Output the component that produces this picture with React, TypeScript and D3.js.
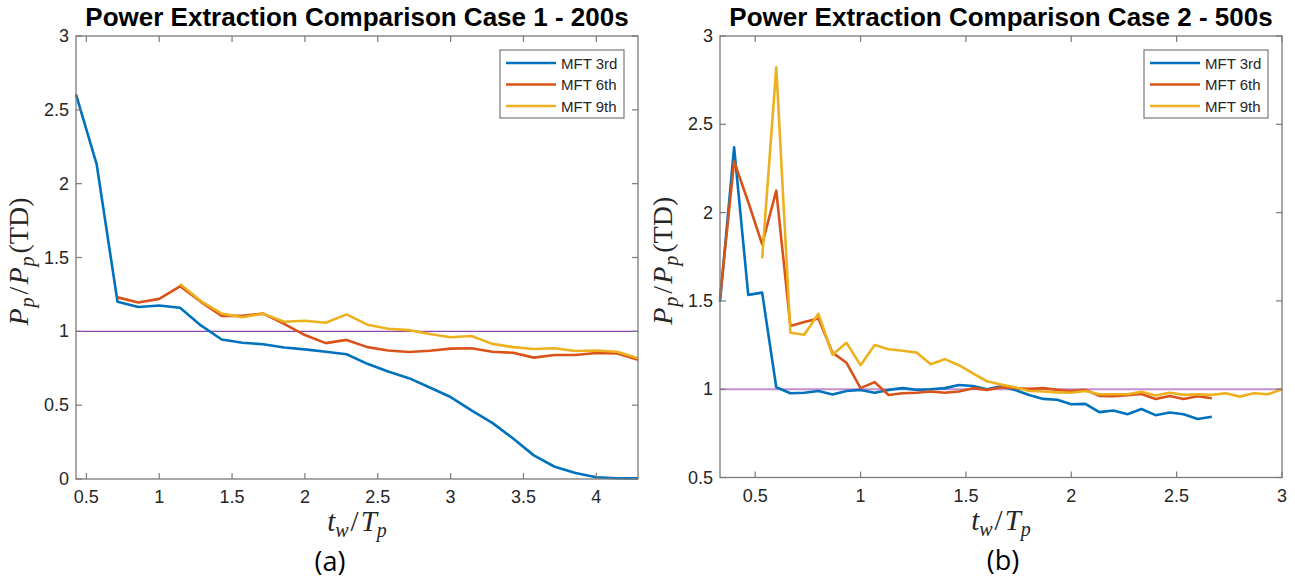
import React from 'react';
import * as d3 from 'd3';

// ---------- data ----------
const xCase1 = [0.429, 0.571, 0.714, 0.857, 1.0, 1.143, 1.286, 1.429, 1.571, 1.714, 1.857, 2.0, 2.143, 2.286,
  2.429, 2.571, 2.714, 2.857, 3.0, 3.143, 3.286, 3.429, 3.571, 3.714, 3.857, 4.0, 4.143, 4.286];
const mft3Case1 = [2.605, 2.13, 1.2, 1.165, 1.175, 1.16, 1.04, 0.945, 0.923, 0.912, 0.89, 0.878, 0.862, 0.845,
  0.78, 0.728, 0.683, 0.62, 0.555, 0.465, 0.38, 0.274, 0.16, 0.083, 0.04, 0.012, 0.005, 0.004];
const mft6Case1 = [null, null, 1.23, 1.195, 1.22, 1.305, 1.2, 1.105, 1.105, 1.12, 1.05, 0.975, 0.92, 0.942,
  0.893, 0.87, 0.86, 0.868, 0.883, 0.885, 0.862, 0.855, 0.822, 0.84, 0.84, 0.853, 0.85, 0.808];
const mft9Case1 = [null, null, null, null, null, 1.32, 1.205, 1.12, 1.095, 1.12, 1.065, 1.072, 1.058, 1.115,
  1.045, 1.018, 1.008, 0.982, 0.96, 0.968, 0.915, 0.893, 0.88, 0.885, 0.867, 0.87, 0.862, 0.817];

const xCase2 = [0.333, 0.4, 0.467, 0.533, 0.6, 0.667, 0.733, 0.8, 0.867, 0.933, 1.0, 1.067, 1.133, 1.2, 1.267,
  1.333, 1.4, 1.467, 1.533, 1.6, 1.667, 1.733, 1.8, 1.867, 1.933, 2.0, 2.067, 2.133, 2.2, 2.267, 2.333, 2.4,
  2.467, 2.533, 2.6, 2.667, 2.733, 2.8, 2.867, 2.933, 3.0];
const mft3Case2 = [1.495, 2.37, 1.534, 1.547, 1.011, 0.977, 0.98, 0.99, 0.97, 0.99, 0.996, 0.98, 0.996, 1.006,
  0.996, 1.0, 1.006, 1.024, 1.018, 1.0, 1.017, 0.996, 0.967, 0.945, 0.94, 0.915, 0.917, 0.87, 0.879, 0.858,
  0.888, 0.853, 0.868, 0.858, 0.831, 0.844, null, null, null, null, null];
const mft6Case2 = [1.515, 2.29, 2.06, 1.82, 2.125, 1.358, 1.38, 1.4, 1.207, 1.15, 1.006, 1.04, 0.967, 0.977,
  0.98, 0.987, 0.98, 0.987, 1.006, 0.996, 1.011, 1.006, 1.002, 1.006, 0.996, 0.99, 0.996, 0.962, 0.96, 0.966,
  0.973, 0.945, 0.962, 0.945, 0.96, 0.949, null, null, null, null, null];
const mft9Case2 = [null, null, null, 1.741, 2.823, 1.32, 1.308, 1.427, 1.195, 1.263, 1.136, 1.25, 1.226, 1.218,
  1.207, 1.141, 1.17, 1.136, 1.09, 1.045, 1.026, 1.011, 0.99, 0.987, 0.982, 0.98, 0.99, 0.971, 0.971, 0.971,
  0.985, 0.964, 0.98, 0.968, 0.971, 0.968, 0.977, 0.958, 0.977, 0.971, 1.0];

const seriesNames = ['MFT 3rd', 'MFT 6th', 'MFT 9th'];
const seriesColors = ['#0072BD', '#D95319', '#EDB120'];

const xTicks1 = [0.5, 1, 1.5, 2, 2.5, 3, 3.5, 4];
const yTicks1 = [0, 0.5, 1, 1.5, 2, 2.5, 3];
const xTicks2 = [0.5, 1, 1.5, 2, 2.5, 3];
const yTicks2 = [0.5, 1, 1.5, 2, 2.5, 3];

const titles = ['Power Extraction Comparison Case 1 - 200s', 'Power Extraction Comparison Case 2 - 500s'];
const panelLabels = ['(a)', '(b)'];

const AXIS = '#7a7a7a';
const TXT = '#262626';
const SERIF = 'Liberation Serif, Times New Roman, serif';
const SANS = 'Liberation Sans, Arial, sans-serif';

type PanelProps = {
  left: number; right: number; top: number; bottom: number;
  xDomain: [number, number]; yDomain: [number, number];
  xs: number[]; series: (number | null)[][];
  xTicks: number[]; yTicks: number[];
  title: string; label: string; labelShift: number;
  refColor: string; refWidth: number;
};

function Panel(p: PanelProps) {
  const x = d3.scaleLinear().domain(p.xDomain).range([p.left, p.right]);
  const y = d3.scaleLinear().domain(p.yDomain).range([p.bottom, p.top]);
  const fmt = (v: number) => d3.format('~g')(v);
  const cx = (p.left + p.right) / 2;
  const tick = 6;
  const lg = { x: p.right - 138, y: 50, w: 124, h: 68 };
  return (
    <g>
      <line x1={x(p.xDomain[0])} x2={x(p.xDomain[1])} y1={y(1)} y2={y(1)} stroke={p.refColor} strokeWidth={p.refWidth} />
      {p.series.map((s, i) => {
        const pts = p.xs.map((xv, j) => [xv, s[j]] as [number, number | null]);
        const line = d3.line<[number, number | null]>()
          .defined(d => d[1] !== null)
          .x(d => x(d[0]))
          .y(d => y(d[1] as number));
        return <path key={i} d={line(pts) || ''} fill="none" stroke={seriesColors[i]} strokeWidth={2.6} strokeLinejoin="round" />;
      })}
      <rect x={p.left} y={p.top} width={p.right - p.left} height={p.bottom - p.top} fill="none" stroke={AXIS} strokeWidth={1.3} />
      {p.xTicks.map(t => (
        <g key={'x' + t}>
          <line x1={x(t)} x2={x(t)} y1={p.bottom} y2={p.bottom - tick} stroke={AXIS} strokeWidth={1.2} />
          <line x1={x(t)} x2={x(t)} y1={p.top} y2={p.top + tick} stroke={AXIS} strokeWidth={1.2} />
          <text x={x(t)} y={p.bottom + 24} textAnchor="middle" fontSize={18} fill={TXT} fontFamily={SANS}>{fmt(t)}</text>
        </g>
      ))}
      {p.yTicks.map(t => (
        <g key={'y' + t}>
          <line x1={p.left} x2={p.left + tick} y1={y(t)} y2={y(t)} stroke={AXIS} strokeWidth={1.2} />
          <line x1={p.right} x2={p.right - tick} y1={y(t)} y2={y(t)} stroke={AXIS} strokeWidth={1.2} />
          <text x={p.left - 7} y={y(t) + 6} textAnchor="end" fontSize={18} fill={TXT} fontFamily={SANS}>{fmt(t)}</text>
        </g>
      ))}
      <text x={cx} y={26} textAnchor="middle" fontSize={26} fontWeight="bold" fill="#000" fontFamily={SANS}>{p.title}</text>
      <text transform={`translate(${p.left - 48},${(p.top + p.bottom) / 2 + 4}) rotate(-90)`} textAnchor="middle" fontSize={28} fill={TXT} fontFamily={SERIF}>
        <tspan fontStyle="italic">P</tspan><tspan fontStyle="italic" fontSize={20} dx={1} dy={6}>p</tspan>
        <tspan dx={3} dy={-6}>/</tspan><tspan fontStyle="italic" dx={2}>P</tspan><tspan fontStyle="italic" fontSize={20} dx={1} dy={6}>p</tspan>
        <tspan dx={3} dy={-6}>(TD)</tspan>
      </text>
      <text x={cx} y={p.bottom + 52} textAnchor="middle" fontSize={29} fill={TXT} fontFamily={SERIF}>
        <tspan fontStyle="italic">t</tspan><tspan fontStyle="italic" fontSize={20} dy={6}>w</tspan>
        <tspan dx={2} dy={-6}>/</tspan><tspan fontStyle="italic" dx={2}>T</tspan><tspan fontStyle="italic" fontSize={20} dy={6}>p</tspan>
      </text>
      <text x={cx + p.labelShift} y={p.bottom + 92} textAnchor="middle" fontSize={27} fill="#000" fontFamily="Open Sans, Liberation Sans, sans-serif">{p.label}</text>
      <g>
        <rect x={lg.x} y={lg.y} width={lg.w} height={lg.h} fill="#fff" stroke={AXIS} strokeWidth={1.2} />
        {seriesNames.map((n, i) => (
          <g key={n}>
            <line x1={lg.x + 6} x2={lg.x + 56} y1={lg.y + 13 + i * 21.5} y2={lg.y + 13 + i * 21.5} stroke={seriesColors[i]} strokeWidth={2.6} />
            <text x={lg.x + 61} y={lg.y + 18.5 + i * 21.5} fontSize={15} fill={TXT} fontFamily={SANS}>{n}</text>
          </g>
        ))}
      </g>
    </g>
  );
}

export default function App() {
  return (
    <svg width={1295} height={581} style={{ position: 'absolute', left: 0, top: 0, background: '#fff' }}>
      <rect width={1295} height={581} fill="#fff" />
      <Panel left={76} right={638} top={36} bottom={479} xDomain={[0.429, 4.286]} yDomain={[0, 3]}
        xs={xCase1} series={[mft3Case1, mft6Case1, mft9Case1]} xTicks={xTicks1} yTicks={yTicks1}
        title={titles[0]} label={panelLabels[0]} labelShift={-27} refColor="#8E44AD" refWidth={1.2} />
      <Panel left={720} right={1282} top={36} bottom={477.5} xDomain={[0.333, 3.0]} yDomain={[0.5, 3]}
        xs={xCase2} series={[mft3Case2, mft6Case2, mft9Case2]} xTicks={xTicks2} yTicks={yTicks2}
        title={titles[1]} label={panelLabels[1]} labelShift={2} refColor="#C490D1" refWidth={2} />
    </svg>
  );
}
